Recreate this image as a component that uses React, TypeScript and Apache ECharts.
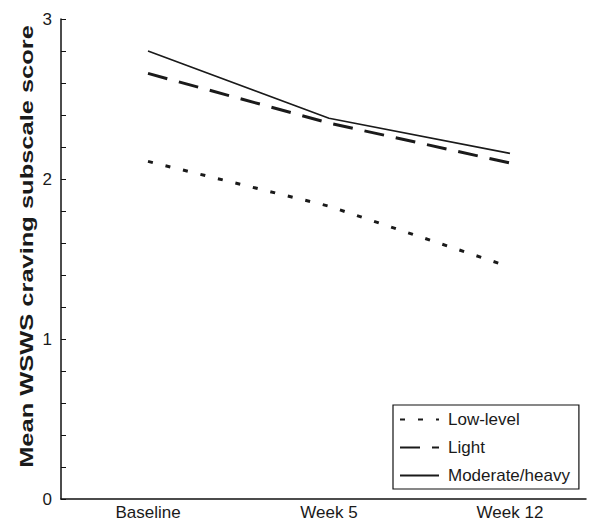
import React, { useEffect, useRef } from "react";
import * as echarts from "echarts";

const categories = ["Baseline", "Week 5", "Week 12"];
const lowLevel = [2.11, 1.83, 1.45];
const light = [2.66, 2.35, 2.1];
const moderateHeavy = [2.8, 2.38, 2.16];
const seriesNames = ["Low-level", "Light", "Moderate/heavy"];
const yTickLabels = [0, 1, 2, 3];
const yTitle = "Mean WSWS craving subscale score";

export default function App() {
  const ref = useRef<HTMLDivElement>(null);
  useEffect(() => {
    if (!ref.current) return;
    const chart = echarts.init(ref.current, undefined, { renderer: "svg" });
    const font = "Liberation Sans, Arial, sans-serif";
    const toPts = (arr: number[]) => arr.map((v, i) => [i, v]);
    const lineCol = "#1a1a1a";
    chart.setOption({
      animation: false,
      backgroundColor: "#fff",
      textStyle: { fontFamily: font },
      grid: { left: 61, right: 3, top: 19, bottom: 28 },
      graphic: [
        {
          type: "text",
          x: 27,
          y: 246.5,
          rotation: Math.PI / 2,
          scaleX: 1.34,
          style: {
            text: yTitle,
            fontSize: 19,
            fontWeight: "bold",
            fontFamily: font,
            fill: "#1a1a1a",
            align: "center",
            verticalAlign: "middle",
          },
        },
      ],
      legend: {
        orient: "vertical",
        left: 393,
        top: 405,
        padding: [6, 9, 5, 6],
        itemGap: 11,
        itemWidth: 39,
        itemHeight: 16,
        borderColor: "#111",
        borderWidth: 1.2,
        itemStyle: { opacity: 0 },
        textStyle: { fontSize: 17, color: "#1a1a1a", fontFamily: font, padding: [0, 0, 0, 4] },
        data: seriesNames,
      },
      xAxis: {
        type: "value",
        min: -0.4807,
        max: 2.42,
        splitLine: { show: false },
        axisTick: { show: false },
        axisLine: { show: true, onZero: false, lineStyle: { color: "#111", width: 1.5 } },
        axisLabel: {
          customValues: [0, 1, 2],
          formatter: (v: number) => categories[Math.round(v)] ?? "",
          fontSize: 17,
          color: "#1a1a1a",
          margin: 5,
          fontFamily: font,
        },
      },
      yAxis: {
        type: "value",
        min: 0,
        max: 3,
        interval: 0.2,
        splitLine: { show: false },
        axisLine: { show: true, onZero: false, lineStyle: { color: "#111", width: 1.5 } },
        axisTick: { show: true, inside: true, length: 5, lineStyle: { color: "#111", width: 1 } },
        axisLabel: {
          fontSize: 17,
          color: "#1a1a1a",
          margin: 9,
          fontFamily: font,
          formatter: (v: number) => {
            const r = Math.round(v);
            return Math.abs(v - r) < 1e-6 && yTickLabels.includes(r) ? String(r) : "";
          },
        },
      },
      series: [
        {
          name: seriesNames[0],
          type: "line",
          data: toPts(lowLevel),
          symbol: "none",
          lineStyle: { color: lineCol, width: 3, type: [5, 13] },
          itemStyle: { color: lineCol },
        },
        {
          name: seriesNames[1],
          type: "line",
          data: toPts(light),
          symbol: "none",
          lineStyle: { color: lineCol, width: 3, type: [20, 12] },
          itemStyle: { color: lineCol },
        },
        {
          name: seriesNames[2],
          type: "line",
          data: toPts(moderateHeavy),
          symbol: "none",
          lineStyle: { color: lineCol, width: 1.6, type: "solid" },
          itemStyle: { color: lineCol },
        },
      ],
    });
    return () => chart.dispose();
  }, []);
  return <div ref={ref} style={{ width: 589, height: 527, position: "absolute", left: 0, top: 0 }} />;
}
